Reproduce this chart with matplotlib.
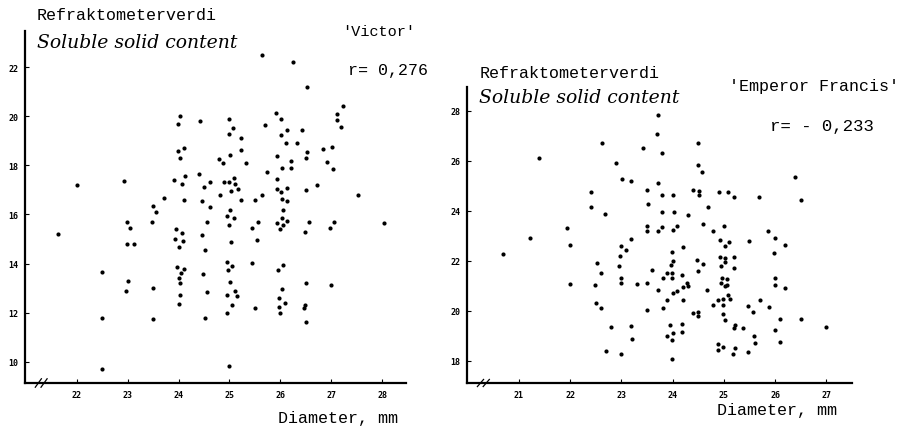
#!/usr/bin/env python3
import matplotlib
matplotlib.use("Agg")
import matplotlib.pyplot as plt

# 'Victor' (left panel): diameter (mm), soluble solid content
victor_x = [25.64, 26.25, 26.52, 27.23, 27.12, 27.11, 27.2, 24.03, 23.98, 24.42,
            25.0, 25.06, 25.0, 25.22, 25.69, 25.92, 26.02, 26.13, 26.02, 26.42,
            26.11, 26.32, 24.1, 23.98, 24.03, 25.23, 25.01, 24.8, 24.88, 25.32,
            25.93, 26.21, 26.21, 26.03, 26.5, 26.53, 26.83, 27.02, 26.92, 27.03,
            25.73, 24.4, 24.13, 23.91, 24.07, 24.62, 24.5, 24.9, 25.0, 25.08,
            25.1, 25.16, 25.03, 24.81, 25.22, 25.51, 25.63, 25.94, 25.93, 26.02,
            26.13, 26.03, 26.13, 26.06, 26.03, 26.51, 26.73, 27.53, 22.01, 22.92,
            23.5, 23.56, 23.71, 24.1, 24.45, 24.62, 25.01, 24.96, 25.08,
            21.63, 22.49, 22.5, 22.49, 22.98, 23.04, 22.98, 23.13, 23.01, 22.96,
            23.48, 23.5, 23.5, 23.94, 24.06, 23.93, 24.09, 24.01, 23.96, 24.1,
            24.05, 24.0, 24.02, 24.03, 24.0, 24.56, 24.46, 24.52, 24.47, 24.56,
            24.51, 24.99, 25.02, 24.96, 25.05, 24.97, 25.01, 25.1, 25.14, 24.95,
            25.05, 24.96, 25.0, 25.44, 25.54, 25.44, 25.5, 25.56, 25.94, 25.99,
            26.06, 26.14, 25.96, 26.06, 26.04, 25.97, 25.98, 26.09, 25.99, 26.48,
            26.56, 26.5, 26.49, 26.47, 26.51, 26.98, 27.06, 27.0, 28.03]
victor_y = [22.49, 22.22, 21.2, 20.4, 20.1, 19.85, 19.58, 20.0, 19.69, 19.82,
            19.87, 19.54, 19.28, 19.13, 19.66, 20.12, 19.9, 19.42, 19.22, 19.43,
            18.91, 18.9, 18.69, 18.58, 18.31, 18.62, 18.42, 18.24, 18.08, 18.11,
            18.38, 18.18, 17.91, 17.89, 18.31, 18.53, 18.65, 18.73, 18.12, 17.84,
            17.71, 17.63, 17.55, 17.39, 17.24, 17.33, 17.11, 17.31, 17.33, 17.48,
            17.25, 17.03, 16.95, 16.79, 16.58, 16.57, 16.78, 17.43, 17.02, 16.93,
            17.09, 16.64, 16.56, 16.18, 15.84, 16.98, 17.2, 16.78, 17.2, 17.36,
            16.33, 16.11, 16.69, 16.58, 16.53, 16.3, 16.18, 15.93, 15.84,
            15.2, 13.67, 11.8, 9.73, 15.71, 15.46, 14.78, 14.78, 13.31, 12.9,
            15.7, 12.99, 11.76, 15.4, 15.24, 15.02, 14.91, 14.68, 13.85, 13.78,
            13.62, 13.42, 13.21, 12.73, 12.35, 15.7, 15.16, 14.57, 13.59, 12.86,
            11.77, 15.58, 14.89, 14.05, 13.89, 13.73, 13.27, 12.9, 12.67, 12.72,
            12.31, 11.99, 9.84, 15.47, 14.95, 14.01, 12.19, 15.69, 15.66, 15.42,
            15.59, 15.74, 13.73, 13.95, 12.98, 12.61, 12.24, 12.39, 11.99, 15.27,
            15.69, 13.21, 12.33, 12.2, 11.62, 15.44, 15.7, 13.12, 15.66]

# 'Emperor Francis' (right panel)
emperor_x = [23.72, 23.7, 22.62, 23.42, 21.4, 22.9, 23.01, 23.19, 23.71, 23.5,
             23.52, 22.41, 22.41, 22.69, 21.95, 23.5, 23.5, 23.71,
             23.8, 24.49, 24.49, 24.57, 26.38, 26.5, 23.8, 24.0, 24.39, 24.51,
             24.51, 24.9, 25.08, 25.19, 25.69, 24.69, 23.8, 24.03, 24.3, 24.6,
             25.0, 23.8, 24.0, 24.09, 24.78, 25.86,
             21.21, 20.69, 22.0, 22.0, 23.19, 22.99, 23.1, 22.97, 22.95, 22.52,
             22.6, 22.49, 23.0, 23.0, 23.3, 23.51, 23.6, 23.71, 22.51, 22.6,
             23.5, 22.8, 23.19, 23.2, 22.71, 23.0,
             24.92, 25.11, 25.03, 25.49, 25.99, 26.19, 25.98, 23.98, 24.21, 24.0,
             23.97, 23.9, 23.99, 23.99, 23.81, 24.19, 24.48, 24.6, 24.49, 24.92,
             25.02, 25.02, 25.19, 24.95, 25.19, 24.97, 25.07, 24.94, 25.02, 25.06,
             26.0, 25.99, 26.2, 24.01, 24.09, 24.21, 24.29, 24.3, 24.67, 23.9,
             24.21, 23.82, 24.78, 24.89, 24.99, 24.99, 25.09, 25.12, 25.7, 25.48,
             25.56, 25.88, 24.39, 24.5, 24.5, 24.99, 25.03, 25.21, 25.19, 25.38,
             26.1, 26.5, 26.99, 26.0, 26.09, 23.95, 24.19, 24.19, 24.0, 23.89,
             23.99, 23.99, 24.88, 24.88, 24.99, 25.21, 25.17, 25.47, 25.58, 25.6]
emperor_y = [27.84, 27.07, 26.72, 26.51, 26.1, 25.91, 25.26, 25.2, 25.12, 24.82,
             24.26, 24.74, 24.15, 23.86, 23.32, 23.38, 23.2, 23.18,
             26.31, 26.73, 25.82, 25.55, 25.36, 24.43, 24.64, 24.62, 24.84, 24.78,
             24.63, 24.75, 24.75, 24.54, 24.54, 24.15, 23.94, 23.94, 23.82, 23.46,
             23.38, 23.34, 23.24, 23.38, 23.18, 23.18,
             22.92, 22.28, 22.62, 21.07, 22.86, 22.6, 22.43, 22.19, 21.8, 21.9,
             21.5, 21.02, 21.33, 21.12, 21.08, 21.11, 21.63, 20.82, 20.31, 20.11,
             20.04, 19.34, 19.4, 18.86, 18.4, 18.26,
             22.82, 22.76, 22.6, 22.78, 22.92, 22.64, 22.31, 22.35, 22.54, 22.0,
             21.82, 21.52, 21.5, 21.32, 21.33, 21.43, 22.03, 21.88, 21.6, 22.15,
             22.1, 21.94, 22.15, 21.78, 21.72, 21.32, 21.26, 21.1, 20.98, 21.04,
             21.3, 21.03, 20.92, 20.72, 20.8, 20.95, 21.1, 20.98, 20.84, 20.44,
             20.44, 20.12, 20.24, 20.43, 20.46, 20.23, 20.64, 20.48, 20.44, 20.18,
             19.95, 20.15, 19.91, 19.96, 19.79, 19.87, 19.63, 19.43, 19.3, 19.32,
             19.66, 19.66, 19.34, 19.22, 18.75, 19.43, 19.47, 19.14, 19.12, 19.0,
             18.84, 18.06, 18.67, 18.43, 18.55, 18.51, 18.28, 18.35, 18.98, 18.71]

victor_xticks = [22, 23, 24, 25, 26, 27, 28]
victor_yticks = [10, 12, 14, 16, 18, 20, 22]
emperor_xticks = [21, 22, 23, 24, 25, 26, 27]
emperor_yticks = [18, 20, 22, 24, 26, 28]

W, H = 900, 431
fig = plt.figure(figsize=(9, 4.31), dpi=100)

mono = "Liberation Mono"
script = "DejaVu Serif"


def px(x, y):
    return x / W, 1 - y / H


def setup(ax, xlim, ylim, xticks, yticks):
    ax.set_xlim(*xlim)
    ax.set_ylim(*ylim)
    for s in ["top", "right"]:
        ax.spines[s].set_visible(False)
    ax.spines["left"].set_linewidth(1.6)
    ax.spines["bottom"].set_linewidth(1.6)
    ax.set_xticks(xticks)
    ax.set_yticks(yticks)
    ax.tick_params(direction="in", length=3, width=0.8, labelsize=6, pad=5)
    for lab in ax.get_xticklabels() + ax.get_yticklabels():
        lab.set_fontfamily("DejaVu Sans Mono")
        lab.set_fontweight("bold")
    # axis break marks
    for dx in (0.035, 0.05):
        ax.plot([dx - 0.008, dx + 0.008], [-0.012, 0.012], transform=ax.transAxes,
                color="black", lw=0.9, clip_on=False)


ax1 = fig.add_axes([25 / W, 47 / H, 381 / W, 352 / H])
setup(ax1, (20.98, 28.47), (9.14, 23.47), victor_xticks, victor_yticks)
ax1.scatter(victor_x, victor_y, s=9, color="black", linewidths=0)

ax2 = fig.add_axes([467 / W, 47 / H, 385 / W, 296 / H])
setup(ax2, (19.99, 27.5), (17.11, 28.95), emperor_xticks, emperor_yticks)
ax2.scatter(emperor_x, emperor_y, s=9, color="black", linewidths=0)

# left panel texts
fig.text(*px(37, 15), "Refraktometerverdi", family=mono, fontsize=12, va="center")
fig.text(*px(37, 43), "Soluble solid content", family=script, style="italic",
         fontsize=13.5, va="center")
fig.text(*px(342, 32), "'Victor'", family=mono, fontsize=11, va="center")
fig.text(*px(348, 70), "r= 0,276", family=mono, fontsize=12, va="center")
fig.text(*px(278, 419), "Diameter, mm", family=mono, fontsize=12, va="center")

# right panel texts
fig.text(*px(480, 73), "Refraktometerverdi", family=mono, fontsize=12, va="center")
fig.text(*px(479, 98), "Soluble solid content", family=script, style="italic",
         fontsize=13.5, va="center")
fig.text(*px(729, 87), "'Emperor Francis'", family=mono, fontsize=12, va="center")
fig.text(*px(770, 127), "r= - 0,233", family=mono, fontsize=12.5, va="center")
fig.text(*px(717, 411), "Diameter, mm", family=mono, fontsize=12, va="center")

fig.savefig("out.png", dpi=100)
